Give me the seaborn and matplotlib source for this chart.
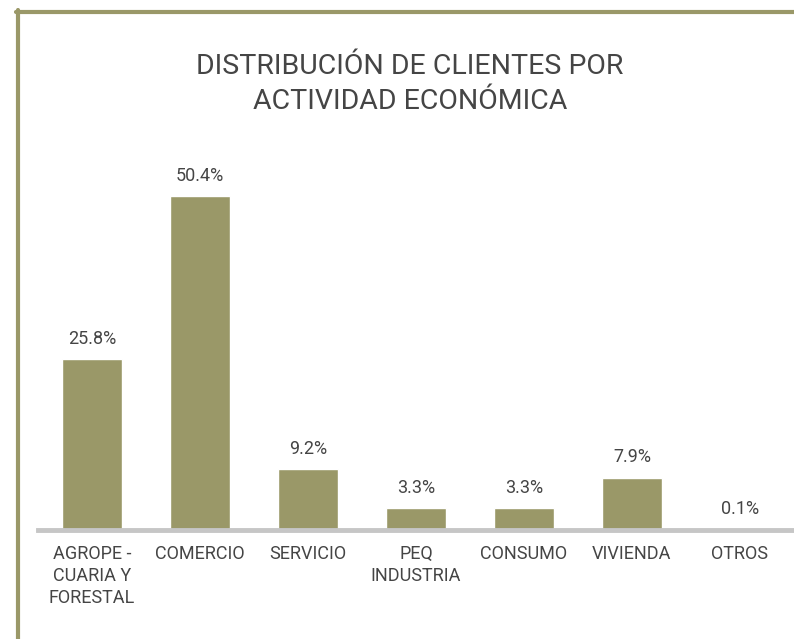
import matplotlib
matplotlib.use("Agg")
import matplotlib.pyplot as plt
import seaborn as sns
import pandas as pd
from matplotlib.lines import Line2D

categorias = ["AGROPE -\nCUARIA Y\nFORESTAL", "COMERCIO", "SERVICIO", "PEQ\nINDUSTRIA",
              "CONSUMO", "VIVIENDA", "OTROS"]
porcentajes = [25.8, 50.4, 9.2, 3.3, 3.3, 7.9, 0.1]
etiquetas = ["25.8%", "50.4%", "9.2%", "3.3%", "3.3%", "7.9%", "0.1%"]

olive = "#9a9868"
texto = "#454545"

sns.set_style("white")
plt.rcParams["font.family"] = ["Roboto", "DejaVu Sans"]

df = pd.DataFrame({"cat": categorias, "pct": porcentajes})

fig = plt.figure(figsize=(7.94, 6.39), dpi=100)
ax = fig.add_axes([38 / 794, 1 - 530 / 639, 756 / 794, 390 / 639])

sns.barplot(data=df, x="cat", y="pct", color=olive, saturation=1, width=0.56, ax=ax)
ax.bar_label(ax.containers[0], labels=etiquetas, padding=8, fontsize=13, color=texto)

ax.set_ylim(0, 58.8)
ax.set_xlim(-0.5, 6.5)
ax.set_xlabel("")
ax.set_ylabel("")
ax.set_yticks([])
ax.tick_params(axis="x", length=0, pad=11, labelsize=13, labelcolor=texto)
for lbl in ax.get_xticklabels():
    lbl.set_linespacing(1.28)
for s in ["left", "right", "top"]:
    ax.spines[s].set_visible(False)
ax.spines["bottom"].set_color("#c6c6c6")
ax.spines["bottom"].set_linewidth(3.5)

fig.text(410 / 794, 1 - 84 / 639, "DISTRIBUCIÓN DE CLIENTES POR\nACTIVIDAD ECONÓMICA",
         ha="center", va="center", fontsize=20.5, color=texto, linespacing=1.42)

# marco
fig.add_artist(Line2D([18 / 794, 18 / 794], [0, 1 - 10 / 639], color=olive, lw=3,
                      transform=fig.transFigure))
fig.add_artist(Line2D([16 / 794, 1], [1 - 12 / 639, 1 - 12 / 639], color=olive, lw=3,
                      transform=fig.transFigure))

fig.savefig("out.png", dpi=100)
